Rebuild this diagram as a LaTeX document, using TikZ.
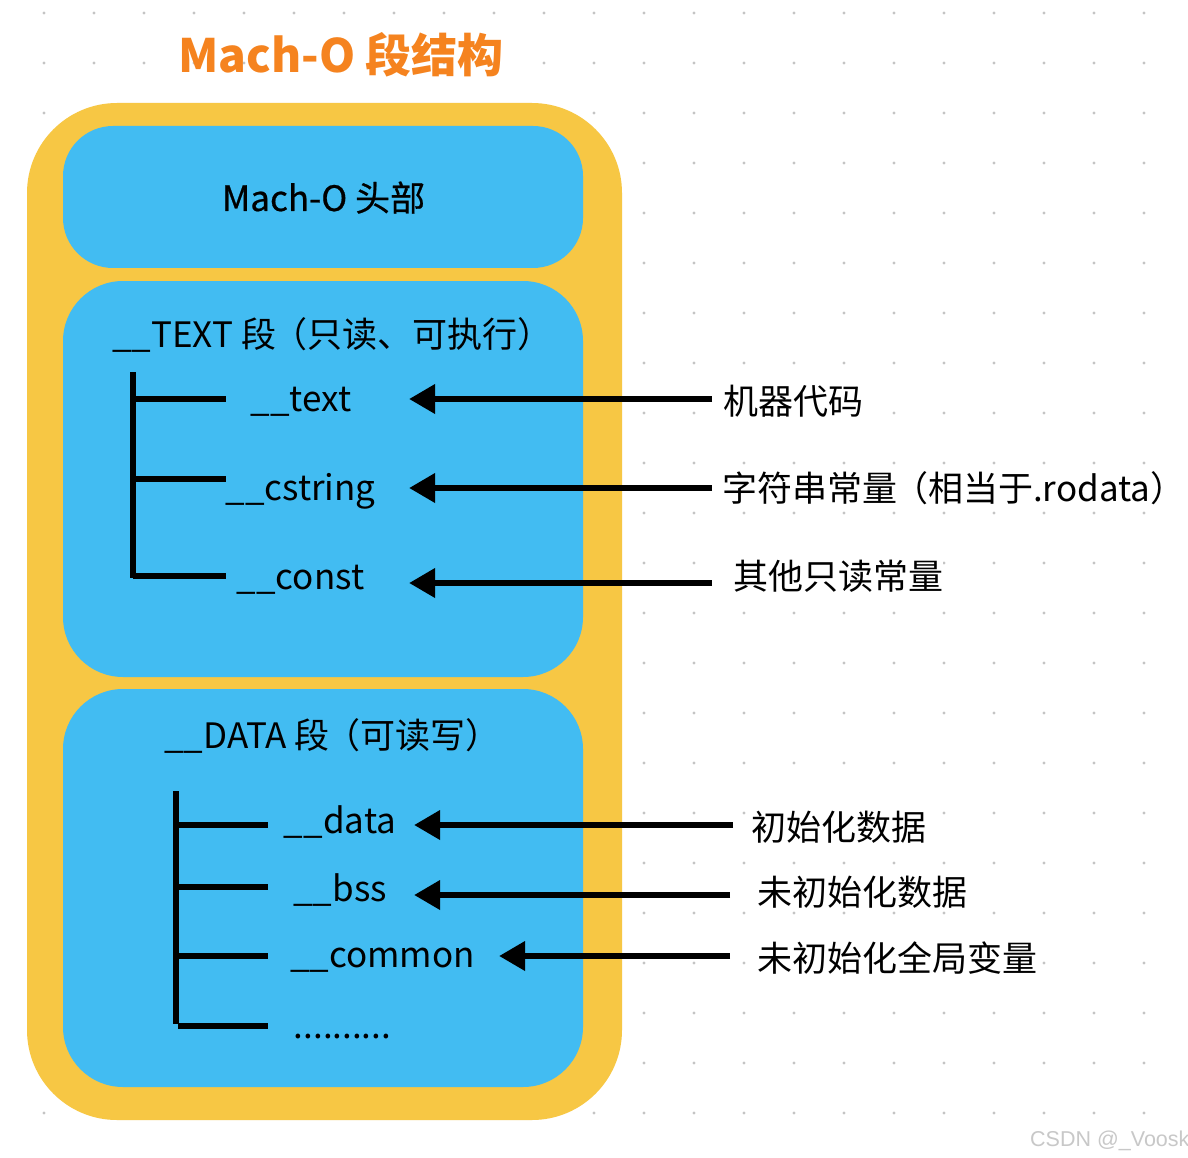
\documentclass[tikz,border=0pt]{standalone}
\usepackage{fontspec}
\setmainfont{Noto Sans CJK SC}
\newfontfamily\medfont[FakeBold=0.6]{Noto Sans CJK SC}
\newfontfamily\wmfont{Liberation Sans}
\usetikzlibrary{arrows.meta}
\definecolor{ybg}{HTML}{F7C744}
\definecolor{bbg}{HTML}{42BCF2}
\definecolor{ttl}{HTML}{F5831F}
\definecolor{dotc}{HTML}{C4C4C4}
\definecolor{wmc}{HTML}{C8C8C8}
\tikzset{
  outerbox/.style={fill=ybg, rounded corners=90pt, inner sep=0pt, minimum width=595pt, minimum height=1017pt},
  bluebox/.style={fill=bbg, rounded corners=60pt, inner sep=0pt, minimum width=520pt},
  txt/.style={font=\fontsize{35}{40}\selectfont, inner sep=0pt, anchor=base},
  seglab/.style={font=\fontsize{35}{40}\selectfont, inner sep=0pt, anchor=base west},
  rlab/.style={font=\fontsize{35}{40}\selectfont, fill=white, inner xsep=0pt, inner ysep=1pt, anchor=base west},
  treeline/.style={line width=6.5pt},
  arr/.style={line width=6.5pt, -{Triangle[length=26pt,width=28pt]}}
}
\begin{document}
\begin{tikzpicture}[x=1pt,y=-1pt]
\useasboundingbox (0,0) rectangle (1188,1158);
\fill[white] (0,0) rectangle (1188,1158);
% dotted grid
\foreach \i in {0,...,22}{
  \foreach \j in {0,...,22}{
    \fill[dotc] (44+50*\i,13+50*\j) circle[radius=1.6pt];
  }
}
% title
\node[font=\fontsize{46}{50}\selectfont\bfseries, text=ttl, inner sep=0pt, anchor=base] (title) at (341,73) {Mach-O 段结构};
% boxes
\node[outerbox] (outer) at (324.5,611.5) {};
\node[bluebox, minimum height=142pt, rounded corners=50pt] (hdr) at (323,197) {};
\node[bluebox, minimum height=396pt] (textseg) at (323,479) {};
\node[bluebox, minimum height=398pt] (dataseg) at (323,888) {};
% header text
\node[txt, font=\fontsize{35}{40}\medfont] (hdrlab) at (323.5,211) {Mach-O 头部};
% TEXT segment
\node[seglab] (textlab) at (112,347) {\_\_TEXT 段\hspace{-4pt}（只读、可执行）};
\draw[treeline] (133,372) -- (133,578);
\draw[treeline] (133,399) -- (226,399);
\draw[treeline] (133,479) -- (226,479);
\draw[treeline] (133,576) -- (226,576);
\node[txt] (s1) at (301,411) {\_\_text};
\node[txt] (s2) at (300.5,500) {\_\_cstring};
\node[txt] (s3) at (300.5,589) {\_\_const};
% DATA segment
\node[seglab] (datalab) at (164,748) {\_\_DATA 段\hspace{-4pt}（可读写）};
\draw[treeline] (176,791) -- (176,1024);
\draw[treeline] (176,825) -- (268,825);
\draw[treeline] (176,887) -- (268,887);
\draw[treeline] (176,956) -- (268,956);
\draw[treeline] (178,1026) -- (268,1026);
\node[txt] (d1) at (340,833) {\_\_data};
\node[txt] (d2) at (340,901) {\_\_bss};
\node[txt] (d3) at (382.5,967) {\_\_common};
\node[txt] (d4) at (342.5,1038) {..........};
% right labels
\node[rlab] (r1) at (723,414) {机器代码};
\node[rlab] (r2) at (722,501) {字符串常量\hspace{-4pt}（相当于.rodata）};
\node[rlab] (r3) at (733,589) {其他只读常量};
\node[rlab] (r4) at (751,840) {初始化数据};
\node[rlab] (r5) at (757,905) {未初始化数据};
\node[rlab] (r6) at (757,971) {未初始化全局变量};
% arrows
\coordinate (a1s) at (712,399); \coordinate (a1e) at (409,399);
\coordinate (a2s) at (712,488); \coordinate (a2e) at (409,488);
\coordinate (a3s) at (712,583); \coordinate (a3e) at (409,583);
\coordinate (a4s) at (733,825); \coordinate (a4e) at (414,825);
\coordinate (a5s) at (730,895); \coordinate (a5e) at (414,895);
\coordinate (a6s) at (730,956); \coordinate (a6e) at (499,956);
\draw[arr] (a1s) -- (a1e);
\draw[arr] (a2s) -- (a2e);
\draw[arr] (a3s) -- (a3e);
\draw[arr] (a4s) -- (a4e);
\draw[arr] (a5s) -- (a5e);
\draw[arr] (a6s) -- (a6e);
% watermark
\node[font=\fontsize{21.5}{24}\wmfont, text=wmc, inner sep=0pt, anchor=base west] (wm) at (1030,1146) {CSDN @\_Voosk};
\end{tikzpicture}
\end{document}
